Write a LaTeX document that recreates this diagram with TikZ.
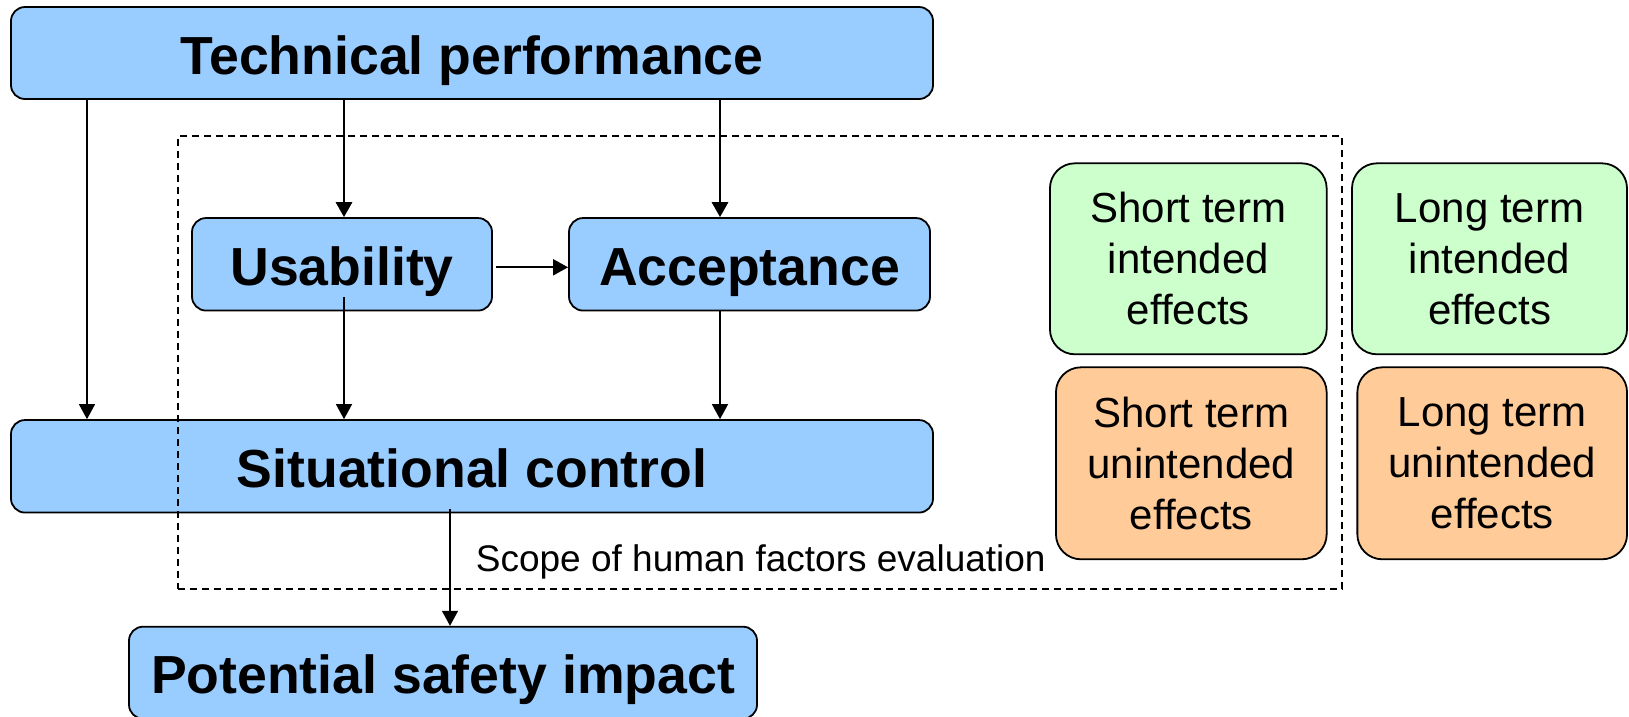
\documentclass[tikz,border=0pt]{standalone}
\usepackage{fontspec}
\setmainfont{Liberation Sans}
\usetikzlibrary{arrows.meta}
\definecolor{boxblue}{HTML}{99CCFF}
\definecolor{boxgreen}{HTML}{CCFFCC}
\definecolor{boxorange}{HTML}{FFCC99}
\tikzset{
  bluebox/.style={draw=black, line width=1.8pt, fill=boxblue, rounded corners=14pt,
    inner sep=0pt, text height=42pt, text depth=0pt,
    font=\fontsize{53.6}{60}\selectfont\bfseries},
  effbox/.style={draw=black, line width=1.8pt, rounded corners=25pt, inner sep=0pt,
    align=center, font=\fontsize{42}{51}\selectfont},
  tip/.style={-{Triangle[length=15pt,width=16pt]}},
  thickarrow/.style={tip, line width=2.9pt},
  midarrow/.style={tip, line width=1.8pt},
  thinarrow/.style={tip, line width=1.4pt},
  scopeframe/.style={draw=black, line width=1.6pt, dash pattern=on 7pt off 5pt, inner sep=0pt}
}
\begin{document}
\begin{tikzpicture}[x=1pt,y=-1pt]
\useasboundingbox (0,0) rectangle (1629,716);
\clip (0,0) rectangle (1629,716);
% main blue boxes
\node[bluebox, minimum width=922pt, minimum height=92pt] (tech) at (472,53) {Technical performance};
\node[bluebox, minimum width=300pt, minimum height=92.5pt] (usab) at (342,264.3) {Usability};
\node[bluebox, minimum width=361pt, minimum height=92.5pt] (acc) at (749.5,264.3) {Acceptance};
\node[bluebox, minimum width=922pt, minimum height=92.5pt] (sc) at (472,466.3) {Situational control};
\node[bluebox, minimum width=628pt, minimum height=92pt] (psi) at (443,672.7) {Potential safety impact};
% effect boxes
\node[effbox, fill=boxgreen, minimum width=276.7pt, minimum height=191pt] (sti) at (1188.3,258.8) {Short term\\intended\\effects};
\node[effbox, fill=boxgreen, minimum width=275pt, minimum height=191pt] (lti) at (1489.5,258.8) {Long term\\intended\\effects};
\node[effbox, fill=boxorange, minimum width=270.7pt, minimum height=192pt] (stu) at (1191.3,463.3) {Short term\\unintended\\effects};
\node[effbox, fill=boxorange, minimum width=269.7pt, minimum height=192pt] (ltu) at (1492.2,463.3) {Long term\\unintended\\effects};
% scope frame and label
\node[scopeframe, minimum width=1164pt, minimum height=453pt] (frame) at (760,362.5) {};
\node[anchor=base west, inner sep=0pt, font=\fontsize{37}{44}\selectfont] (scopelabel) at (475.7,571) {Scope of human factors evaluation};
% x positions of connectors
\coordinate (xl) at (87,0);
\coordinate (xu) at (344,0);
\coordinate (xa) at (720,0);
\coordinate (xs) at (450,0);
\coordinate (yh) at (0,267.3);
% connectors
\draw[thinarrow] (tech.south -| xl) -- (sc.north -| xl);
\draw[thickarrow] (tech.south -| xu) -- (usab.north -| xu);
\draw[thickarrow] (tech.south -| xa) -- (acc.north -| xa);
\draw[midarrow] ([xshift=3pt]usab.east |- yh) -- (acc.west |- yh);
\draw[thinarrow] ([yshift=14pt]usab.south -| xu) -- (sc.north -| xu);
\draw[thinarrow] (acc.south -| xa) -- (sc.north -| xa);
\draw[thinarrow] ([yshift=4pt]sc.south -| xs) -- (psi.north -| xs);
\end{tikzpicture}
\end{document}
